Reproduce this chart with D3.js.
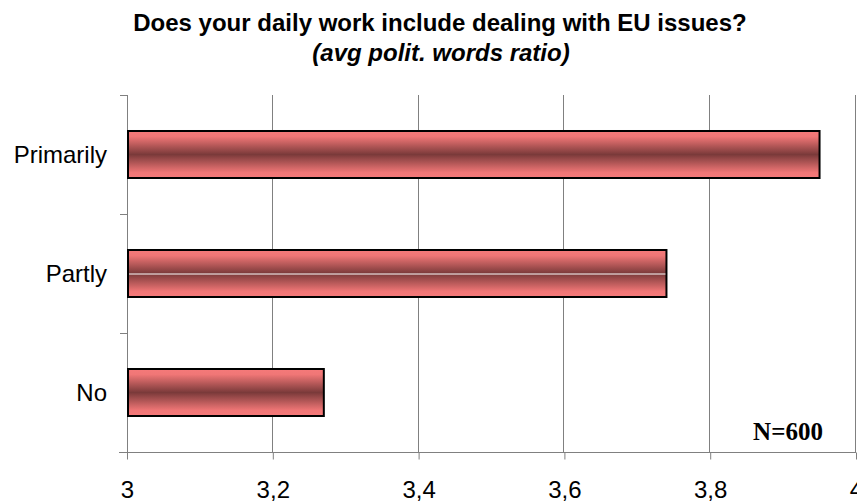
<!DOCTYPE html>
<html><head><meta charset="utf-8">
<script src="https://cdn.jsdelivr.net/npm/d3@7"></script>
<style>body{margin:0;background:#fff}svg{display:block}</style>
</head><body><svg id="c" width="857" height="504"></svg>
<script>
const categories = ["Primarily", "Partly", "No"];
const values = [3.95, 3.74, 3.27];
const xTicks = [3, 3.2, 3.4, 3.6, 3.8, 4];
const titleLines = ["Does your daily work include dealing with EU issues?", "(avg polit. words ratio)"];
const note = "N=600";

const svg = d3.select("#c");
const m = {left: 127, right: 856, top: 95, bottom: 452};
const x = d3.scaleLinear().domain([3, 4]).range([m.left, m.right]);
const y = d3.scaleBand().domain(categories).range([m.top, m.bottom]).paddingInner(0.605).paddingOuter(0.3025);
const sans = "Arial, 'Liberation Sans', sans-serif";

const defs = svg.append("defs");
const g = defs.append("linearGradient").attr("id", "barg").attr("x1", 0).attr("y1", 0).attr("x2", 0).attr("y2", 1);
[[0, "#f57a7a"], [0.12, "#f07676"], [0.5, "#7a3a3a"], [0.88, "#f07676"], [1, "#f57a7a"]]
  .forEach(([o, c]) => g.append("stop").attr("offset", o).attr("stop-color", c));

// gridlines
svg.append("g").selectAll("line").data(xTicks.slice(1)).join("line")
  .attr("x1", d => Math.round(x(d)) - 0.5).attr("x2", d => Math.round(x(d)) - 0.5)
  .attr("y1", m.top).attr("y2", m.bottom)
  .attr("stroke", "#808080").attr("stroke-width", 1);

// bottom axis
const xa = svg.append("g").attr("transform", `translate(0,${m.bottom + 0.5})`)
  .call(d3.axisBottom(x).tickValues(xTicks).tickSize(7).tickPadding(21)
    .tickFormat(d => String(d).replace(".", ",")));
xa.select(".domain").remove();
xa.selectAll(".tick line").attr("stroke", "#808080");
xa.selectAll("text").attr("font-family", sans).attr("font-size", 24).attr("fill", "#000");
svg.append("line").attr("x1", 119).attr("x2", m.right).attr("y1", m.bottom + 0.5).attr("y2", m.bottom + 0.5).attr("stroke", "#808080");

// left axis
svg.append("line").attr("x1", m.left + 0.5).attr("x2", m.left + 0.5).attr("y1", m.top).attr("y2", m.bottom).attr("stroke", "#808080");
const ticksY = [m.top, ...categories.map(c => y(c) + y.bandwidth() / 2 + y.step() / 2)];
svg.append("g").selectAll("line").data(ticksY).join("line")
  .attr("x1", 120).attr("x2", m.left).attr("y1", d => Math.round(d) + 0.5).attr("y2", d => Math.round(d) + 0.5)
  .attr("stroke", "#808080");
svg.append("g").selectAll("text").data(categories).join("text")
  .attr("x", 107).attr("y", d => y(d) + y.bandwidth() / 2)
  .attr("dy", "0.35em").attr("text-anchor", "end")
  .attr("font-family", sans).attr("font-size", 24).text(d => d);

// bars
const bars = svg.append("g").selectAll("g").data(categories.map((c, i) => ({c, v: values[i]}))).join("g");
bars.append("rect")
  .attr("x", x(3) + 1).attr("y", d => y(d.c)).attr("width", d => x(d.v) - x(3) - 1).attr("height", y.bandwidth())
  .attr("fill", "url(#barg)").attr("stroke", "#000").attr("stroke-width", 2);
bars.filter(d => d.c === "Partly").append("line")
  .attr("x1", x(3) + 2).attr("x2", d => x(d.v) - 1)
  .attr("y1", d => y(d.c) + y.bandwidth() / 2 + 0.5).attr("y2", d => y(d.c) + y.bandwidth() / 2 + 0.5)
  .attr("stroke", "#fff").attr("stroke-width", 1);

// title
svg.append("text").attr("x", 440).attr("y", 31).attr("text-anchor", "middle")
  .attr("font-family", sans).attr("font-weight", "bold").attr("font-size", 24)
  .text(titleLines[0]);
svg.append("text").attr("x", 441).attr("y", 61).attr("text-anchor", "middle")
  .attr("font-family", sans).attr("font-weight", "bold").attr("font-style", "italic").attr("font-size", 24)
  .text(titleLines[1]);

// note
svg.append("text").attr("x", 788).attr("y", 440).attr("text-anchor", "middle")
  .attr("font-family", "'Times New Roman', 'Liberation Serif', serif").attr("font-weight", "bold").attr("font-size", 25)
  .text(note);
</script></body></html>
